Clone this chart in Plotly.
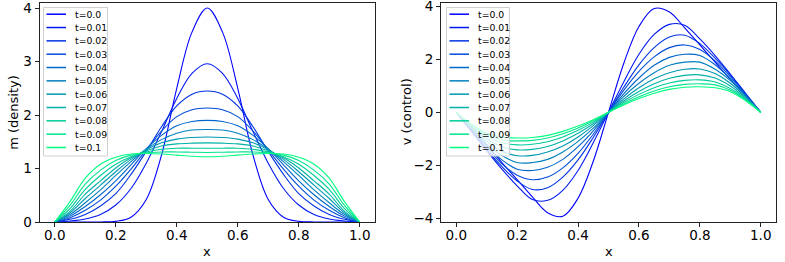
import plotly.graph_objects as go

x_grid = [0.0, 0.05, 0.1, 0.15, 0.2, 0.25, 0.3, 0.35, 0.4, 0.45, 0.5,
          0.55, 0.6, 0.65, 0.7, 0.75, 0.8, 0.85, 0.9, 0.95, 1.0]
t_labels = ["t=0.0", "t=0.01", "t=0.02", "t=0.03", "t=0.04", "t=0.05",
            "t=0.06", "t=0.07", "t=0.08", "t=0.09", "t=0.1"]
x_tick_vals = [0, 0.2, 0.4, 0.6, 0.8, 1.0]
x_tick_text = ["0.0", "0.2", "0.4", "0.6", "0.8", "1.0"]
m_tick_vals = [0, 1, 2, 3, 4]
v_tick_vals = [-4, -2, 0, 2, 4]
v_tick_text = ["\u22124", "\u22122", "0", "2", "4"]

# density m(x) per time
m_t000 = [0, 0, 0, 0.001, 0.012, 0.09, 0.42, 1.25, 2.50, 3.55, 4.00, 3.55, 2.50, 1.25, 0.42, 0.09, 0.012, 0.001, 0, 0, 0]
m_t001 = [0, 0.019, 0.056, 0.14, 0.317, 0.627, 1.10, 1.69, 2.31, 2.78, 2.96, 2.78, 2.31, 1.69, 1.10, 0.627, 0.317, 0.14, 0.056, 0.019, 0]
m_t002 = [0, 0.05, 0.14, 0.30, 0.53, 0.89, 1.32, 1.78, 2.17, 2.39, 2.45, 2.39, 2.17, 1.78, 1.32, 0.89, 0.53, 0.30, 0.14, 0.05, 0]
m_t003 = [0, 0.08, 0.22, 0.41, 0.67, 0.99, 1.35, 1.70, 1.97, 2.10, 2.13, 2.10, 1.97, 1.70, 1.35, 0.99, 0.67, 0.41, 0.22, 0.08, 0]
m_t004 = [0, 0.11, 0.29, 0.51, 0.77, 1.07, 1.37, 1.62, 1.80, 1.88, 1.90, 1.88, 1.80, 1.62, 1.37, 1.07, 0.77, 0.51, 0.29, 0.11, 0]
m_t005 = [0, 0.14, 0.36, 0.60, 0.87, 1.13, 1.36, 1.54, 1.66, 1.72, 1.73, 1.72, 1.66, 1.54, 1.36, 1.13, 0.87, 0.60, 0.36, 0.14, 0]
m_t006 = [0, 0.17, 0.44, 0.69, 0.94, 1.17, 1.35, 1.48, 1.55, 1.58, 1.59, 1.58, 1.55, 1.48, 1.35, 1.17, 0.94, 0.69, 0.44, 0.17, 0]
m_t007 = [0, 0.20, 0.52, 0.77, 1.01, 1.20, 1.33, 1.42, 1.46, 1.475, 1.48, 1.475, 1.46, 1.42, 1.33, 1.20, 1.01, 0.77, 0.52, 0.20, 0]
m_t008 = [0, 0.25, 0.61, 0.87, 1.08, 1.22, 1.31, 1.36, 1.38, 1.38, 1.38, 1.38, 1.38, 1.36, 1.31, 1.22, 1.08, 0.87, 0.61, 0.25, 0]
m_t009 = [0, 0.31, 0.71, 0.97, 1.15, 1.25, 1.295, 1.31, 1.31, 1.305, 1.30, 1.305, 1.31, 1.31, 1.295, 1.25, 1.15, 0.97, 0.71, 0.31, 0]
m_t010 = [0, 0.38, 0.82, 1.08, 1.21, 1.27, 1.28, 1.27, 1.25, 1.23, 1.22, 1.23, 1.25, 1.27, 1.28, 1.27, 1.21, 1.08, 0.82, 0.38, 0]

# control v(x) per time
v_t000 = [0, -0.62, -1.25, -1.9, -2.55, -3.2, -3.8, -3.93, -3.25, -1.85, 0, 1.85, 3.25, 3.93, 3.8, 3.2, 2.55, 1.9, 1.25, 0.62, 0]
v_t001 = [0, -0.72, -1.45, -2.15, -2.78, -3.3, -3.33, -2.95, -2.2, -1.15, 0, 1.15, 2.2, 2.95, 3.33, 3.3, 2.78, 2.15, 1.45, 0.72, 0]
v_t002 = [0, -0.7, -1.42, -2.05, -2.6, -2.92, -2.85, -2.45, -1.8, -0.95, 0, 0.95, 1.8, 2.45, 2.85, 2.92, 2.6, 2.05, 1.42, 0.7, 0]
v_t003 = [0, -0.68, -1.35, -1.95, -2.38, -2.55, -2.45, -2.1, -1.55, -0.83, 0, 0.83, 1.55, 2.1, 2.45, 2.55, 2.38, 1.95, 1.35, 0.68, 0]
v_t004 = [0, -0.65, -1.27, -1.8, -2.15, -2.2, -2.08, -1.78, -1.3, -0.7, 0, 0.7, 1.3, 1.78, 2.08, 2.2, 2.15, 1.8, 1.27, 0.65, 0]
v_t005 = [0, -0.62, -1.2, -1.63, -1.9, -1.9, -1.78, -1.5, -1.1, -0.6, 0, 0.6, 1.1, 1.5, 1.78, 1.9, 1.9, 1.63, 1.2, 0.62, 0]
v_t006 = [0, -0.58, -1.1, -1.47, -1.64, -1.63, -1.5, -1.27, -0.93, -0.5, 0, 0.5, 0.93, 1.27, 1.5, 1.63, 1.64, 1.47, 1.1, 0.58, 0]
v_t007 = [0, -0.54, -1.0, -1.3, -1.42, -1.4, -1.29, -1.08, -0.79, -0.43, 0, 0.43, 0.79, 1.08, 1.29, 1.4, 1.42, 1.3, 1.0, 0.54, 0]
v_t008 = [0, -0.5, -0.9, -1.15, -1.23, -1.21, -1.11, -0.93, -0.68, -0.37, 0, 0.37, 0.68, 0.93, 1.11, 1.21, 1.23, 1.15, 0.9, 0.5, 0]
v_t009 = [0, -0.47, -0.84, -1.04, -1.08, -1.06, -0.97, -0.81, -0.59, -0.32, 0, 0.32, 0.59, 0.81, 0.97, 1.06, 1.08, 1.04, 0.84, 0.47, 0]
v_t010 = [0, -0.44, -0.78, -0.93, -0.97, -0.95, -0.87, -0.72, -0.52, -0.28, 0, 0.28, 0.52, 0.72, 0.87, 0.95, 0.97, 0.93, 0.78, 0.44, 0]

m_series = [m_t000, m_t001, m_t002, m_t003, m_t004, m_t005, m_t006, m_t007, m_t008, m_t009, m_t010]
v_series = [v_t000, v_t001, v_t002, v_t003, v_t004, v_t005, v_t006, v_t007, v_t008, v_t009, v_t010]

# matplotlib "winter" colormap samples
colors = ["rgb(0,0,255)", "rgb(0,25,242)", "rgb(0,51,229)", "rgb(0,76,217)",
          "rgb(0,102,204)", "rgb(0,128,191)", "rgb(0,153,178)", "rgb(0,178,166)",
          "rgb(0,204,153)", "rgb(0,229,140)", "rgb(0,255,128)"]

W, H = 785, 262
fig = go.Figure()
for i, lab in enumerate(t_labels):
    fig.add_trace(go.Scatter(x=x_grid, y=m_series[i], mode="lines", name=lab,
                             line=dict(color=colors[i], width=1.1, shape="spline", smoothing=1.0),
                             xaxis="x", yaxis="y", showlegend=False))
for i, lab in enumerate(t_labels):
    fig.add_trace(go.Scatter(x=x_grid, y=v_series[i], mode="lines", name=lab,
                             line=dict(color=colors[i], width=1.1, shape="spline", smoothing=1.0),
                             xaxis="x2", yaxis="y2", showlegend=False))

TICKFONT = dict(family="DejaVu Sans", size=13.5, color="black")
TITLEFONT = dict(family="DejaVu Sans", size=13, color="black")
ax_common = dict(showline=True, linecolor="#222", linewidth=1, mirror=True,
                 ticks="outside", ticklen=4, tickcolor="#222", showgrid=False,
                 zeroline=False, tickfont=TICKFONT, automargin=False,
                 ticklabeloverflow="allow")

def px(v):
    return v / W

def py(v):
    return 1 - v / H

# compact matplotlib-style legends (drawn in paper space)
shapes = []
annotations = []
legend_boxes = [(43.5, 107.5, 46.5, 66.0, 73.0), (446.5, 509.5, 449.5, 469.0, 475.5)]
row0, row_gap = 14.2, 13.33
for (bx0, bx1, lx0, lx1, tx) in legend_boxes:
    shapes.append(dict(type="rect", xref="paper", yref="paper",
                       x0=px(bx0), x1=px(bx1), y0=py(156.0), y1=py(7.5),
                       fillcolor="rgba(255,255,255,0.8)", line=dict(color="#d0d0d0", width=1),
                       layer="above"))
    for i, lab in enumerate(t_labels):
        yy = row0 + i * row_gap
        shapes.append(dict(type="line", xref="paper", yref="paper",
                           x0=px(lx0), x1=px(lx1), y0=py(yy), y1=py(yy),
                           line=dict(color=colors[i], width=1.5), layer="above"))
        annotations.append(dict(text=lab, xref="paper", yref="paper", x=px(tx), y=py(yy),
                                xanchor="left", yanchor="middle", showarrow=False,
                                font=dict(family="DejaVu Sans", size=9.3, color="black")))

# axis titles placed like matplotlib's
axis_titles = [("m (density)", 13.5, 112.3, -90), ("v (control)", 406.0, 112.3, -90),
               ("x", 207.3, 251.5, 0), ("x", 608.5, 251.5, 0)]
for (txt, ax_px, ay_px, ang) in axis_titles:
    annotations.append(dict(text=txt, xref="paper", yref="paper", x=px(ax_px), y=py(ay_px),
                            xanchor="center", yanchor="middle", showarrow=False, textangle=ang,
                            font=TITLEFONT))

yb = py(222.0)
yt = py(2.7)
fig.update_layout(
    width=W, height=H,
    margin=dict(l=0, r=0, t=0, b=0, pad=0),
    paper_bgcolor="white", plot_bgcolor="white",
    font=dict(family="DejaVu Sans", size=12, color="black"),
    xaxis=dict(domain=[px(39.5), px(375.0)], range=[-0.05, 1.05], tickvals=x_tick_vals,
               ticktext=x_tick_text, anchor="y", ticklabelstandoff=-3, **ax_common),
    yaxis=dict(domain=[yb, yt], range=[0, 4.1], tickvals=m_tick_vals, anchor="x", **ax_common),
    xaxis2=dict(domain=[px(441.0), px(776.0)], range=[-0.05, 1.05], tickvals=x_tick_vals,
                ticktext=x_tick_text, anchor="y2", ticklabelstandoff=-3, **ax_common),
    yaxis2=dict(domain=[yb, yt], range=[-4.15, 4.15], tickvals=v_tick_vals,
                ticktext=v_tick_text, anchor="x2", **ax_common),
    shapes=shapes,
    annotations=annotations,
    showlegend=False,
)

fig.write_html("out.html", config={"displayModeBar": False},
               post_script="document.body.style.margin='0px';document.body.style.padding='0px';")
